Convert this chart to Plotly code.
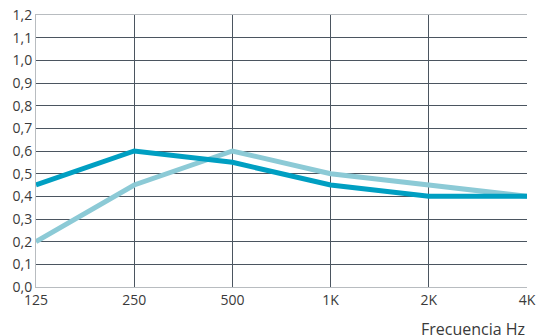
import plotly.graph_objects as go

freqs = ["125", "250", "500", "1K", "2K", "4K"]
serie_clara = [0.20, 0.45, 0.60, 0.50, 0.45, 0.40]
serie_oscura = [0.45, 0.60, 0.55, 0.45, 0.40, 0.40]
y_ticks = [round(i * 0.1, 1) for i in range(13)]
y_labels = [f"{v:.1f}".replace(".", ",") for v in y_ticks]

fig = go.Figure()
fig.add_trace(go.Scatter(x=freqs, y=serie_clara, mode="lines",
                         line=dict(color="#8ccad6", width=5), showlegend=False))
fig.add_trace(go.Scatter(x=freqs, y=serie_oscura, mode="lines",
                         line=dict(color="#009fc2", width=5), showlegend=False))

fig.update_layout(
    width=538, height=335,
    margin=dict(l=36, r=11, t=15, b=48, autoexpand=False),
    paper_bgcolor="white", plot_bgcolor="white",
    font=dict(family="Open Sans, Noto Sans, sans-serif", size=14, color="#3a3a3a"),
    xaxis=dict(type="category", range=[0, 5], showgrid=True, gridcolor="#4b5560",
               gridwidth=1, showline=True, linecolor="#b8bcc0", linewidth=1,
               mirror=True, ticks="", tickfont=dict(size=14, color="#3a3a3a"),
               zeroline=False, automargin=False),
    yaxis=dict(range=[0, 1.2], tickvals=y_ticks, ticktext=y_labels,
               showgrid=True, gridcolor="#4b5560", gridwidth=1,
               showline=True, linecolor="#b8bcc0", linewidth=1, mirror=False,
               ticks="", tickfont=dict(size=14, color="#3a3a3a"), zeroline=False,
               automargin=False),
    annotations=[
        dict(text="Frecuencia Hz", xref="paper", yref="paper", x=1.0, y=-0.108,
             xanchor="right", yanchor="top", showarrow=False,
             font=dict(size=16, color="#3a3a3a")),
        dict(text="Coeficiente de absorción α", xref="paper", yref="paper",
             x=-0.067, y=1.042, xanchor="left", yanchor="bottom", showarrow=False,
             font=dict(size=15, color="#3a3a3a")),
    ],
)

fig.write_html("out.html", config={"displayModeBar": False},
               post_script="document.body.style.margin='0';")
